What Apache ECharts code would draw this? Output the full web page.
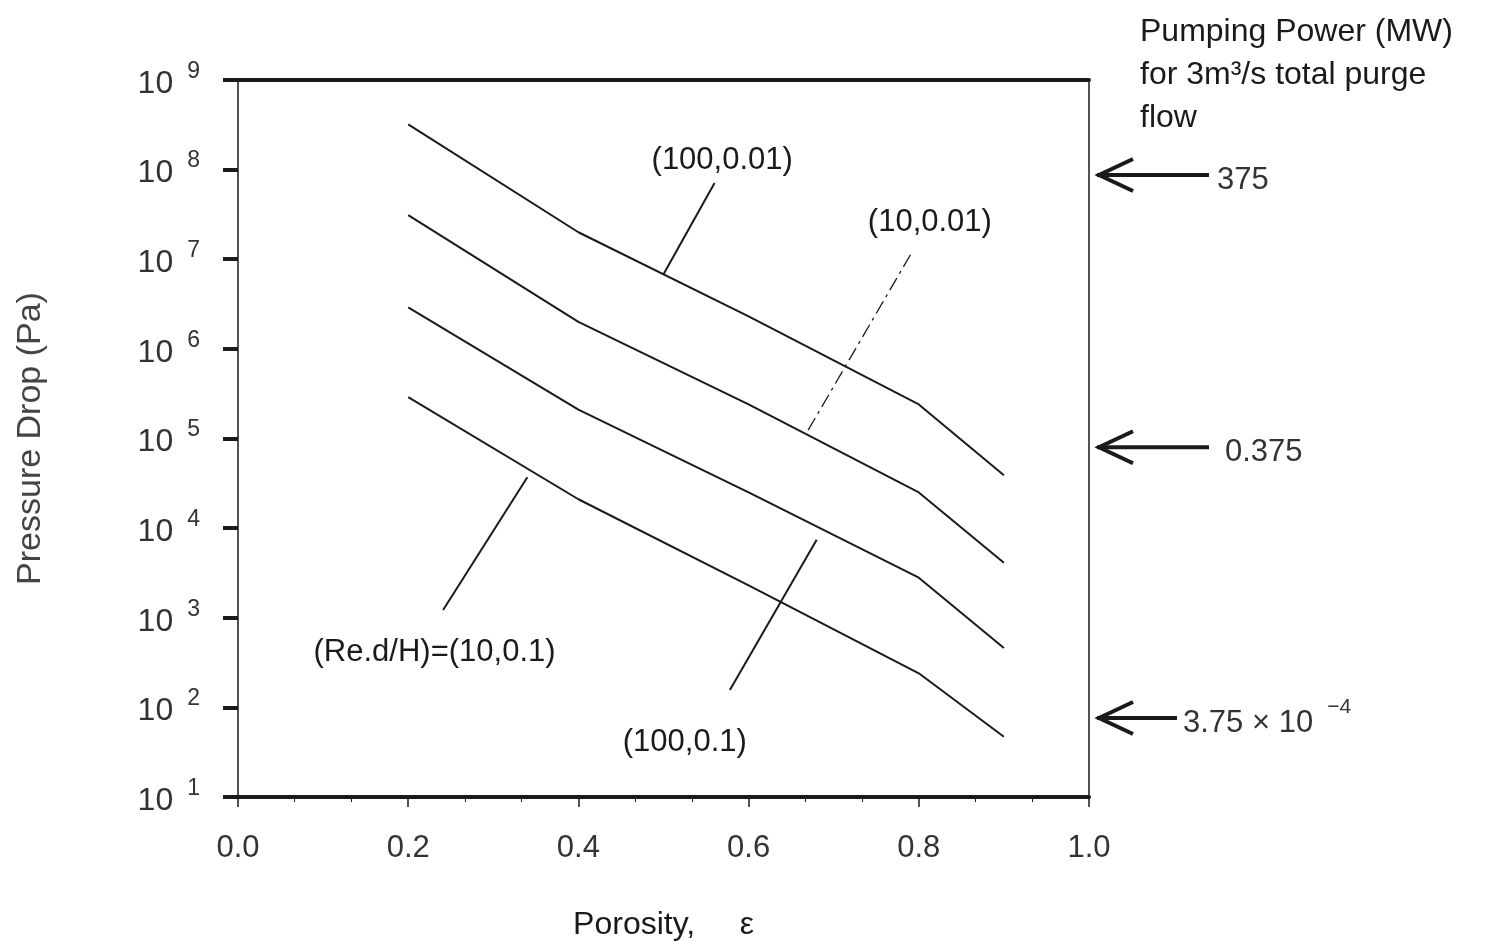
<!DOCTYPE html>
<html>
<head>
<meta charset="utf-8">
<title>Pressure drop vs porosity</title>
<script src="https://cdn.jsdelivr.net/npm/echarts@6/dist/echarts.min.js"></script>
<style>
  html, body { margin: 0; padding: 0; background: #fff; }
  #main { width: 1486px; height: 946px; }
</style>
</head>
<body>
<div id="main"></div>
<script>
// porosity values where the curves are read
var porosity = [0.2, 0.4, 0.6, 0.8, 0.9];
// pressure drop (Pa) for each (Re, d/H) case
var dp_100_001 = [3.2e8, 2.0e7, 2.3e6, 2.4e5, 3.9e4];
var dp_10_001 = [3.1e7, 2.0e6, 2.4e5, 2.5e4, 4.1e3];
var dp_100_01 = [2.9e6, 2.1e5, 2.5e4, 2.8e3, 4.6e2];
var dp_10_01 = [2.9e5, 2.1e4, 2.3e3, 2.4e2, 47];

var xTicks = [0, 0.2, 0.4, 0.6, 0.8, 1.0];
var yMin = 10, yMax = 1e9;

// curve labels and their leader lines [porosity, Pa]
var curveLabels = ['(100,0.01)', '(10,0.01)', '(100,0.1)', '(Re.d/H)=(10,0.1)'];
var labelAt = [[0.569, 1.28e8], [0.813, 2.6e7], [0.525, 41], [0.231, 415]];
var leaderFrom = [[0.5, 6.8e6], [0.67, 1.24e5], [0.68, 7.4e3], [0.34, 3.7e4]];
var leaderTo = [[0.56, 7.1e7], [0.792, 1.2e7], [0.578, 156], [0.241, 1.22e3]];

// pumping power markers on the right side
var powerPa = [8.7e7, 8.0e4, 76];
var powerText = ['375', '0.375', '3.75 \u00d7 10'];
var powerSup = ['', '', '\u22124'];

var FONT = "'Liberation Sans', Arial, sans-serif";
var INK = '#1a1a1a';

var chart = echarts.init(document.getElementById('main'));

function curve(name, values, idx, leaderType) {
    return {
        name: name,
        type: 'line',
        xAxisIndex: 0,
        yAxisIndex: 0,
        data: porosity.map(function (p, i) { return [p, values[i]]; }),
        showSymbol: false,
        lineStyle: { color: INK, width: 2 },
        markLine: {
            silent: true,
            symbol: ['none', 'none'],
            label: { show: false },
            lineStyle: { color: INK, width: leaderType === 'solid' ? 2 : 1.3, type: leaderType === 'solid' ? 'solid' : [14, 5, 3, 5] },
            data: [[{ coord: leaderFrom[idx] }, { coord: leaderTo[idx] }]]
        },
        markPoint: {
            silent: true,
            symbol: 'circle',
            symbolSize: 0,
            label: { show: true, position: 'inside', formatter: '{b}', color: INK, fontSize: 31, fontFamily: FONT },
            data: [{ name: curveLabels[idx], coord: labelAt[idx] }]
        }
    };
}

var option = {
    animation: false,
    backgroundColor: '#fff',
    title: {
        text: 'Pumping Power (MW)\nfor 3m\u00b3/s total purge\nflow',
        left: 1135,
        top: 6,
        textStyle: { fontSize: 32, fontWeight: 'normal', color: INK, fontFamily: FONT, lineHeight: 43 }
    },
    grid: { left: 238, right: 397, top: 80, bottom: 149 },
    xAxis: [{
        type: 'value',
        min: 0, max: 1, interval: 0.2,
        name: 'Porosity,     \u03b5',
        nameLocation: 'middle',
        nameGap: 112,
        nameTextStyle: { fontSize: 32, color: INK, fontFamily: FONT },
        axisLine: { onZero: false, lineStyle: { color: INK, width: 4 } },
        axisTick: { show: true, length: 10, lineStyle: { color: INK, width: 1.5 } },
        minorTick: { show: true, splitNumber: 3, length: 5, lineStyle: { color: INK, width: 1 } },
        axisLabel: {
            margin: 36, fontSize: 31, color: '#333', fontFamily: FONT,
            formatter: function (v) { return v.toFixed(1); }
        },
        splitLine: { show: false }
    }, {
        type: 'value',
        position: 'top',
        min: 0, max: 1,
        axisLine: { onZero: false, lineStyle: { color: INK, width: 4 } },
        axisTick: { show: false },
        axisLabel: { show: false },
        splitLine: { show: false }
    }],
    yAxis: [{
        type: 'log',
        logBase: 10,
        min: yMin, max: yMax, interval: 1,
        name: 'Pressure Drop (Pa)',
        nameLocation: 'middle',
        nameGap: 190,
        nameTextStyle: { fontSize: 34, color: '#444', fontFamily: FONT },
        axisLine: { onZero: false, lineStyle: { color: INK, width: 1.5 } },
        axisTick: { show: true, inside: false, length: 15, lineStyle: { color: INK, width: 4 } },
        axisLabel: {
            margin: 38,
            formatter: function (v) { return '{b|10}{e|' + Math.round(Math.log10(v)) + '}'; },
            rich: {
                b: { fontSize: 32, lineHeight: 40, verticalAlign: 'bottom', color: '#333', fontFamily: FONT },
                e: { fontSize: 23, lineHeight: 40, verticalAlign: 'top', color: '#333', fontFamily: FONT, padding: [0, 0, 0, 14] }
            }
        },
        splitLine: { show: false }
    }, {
        type: 'log',
        logBase: 10,
        position: 'right',
        min: yMin, max: yMax,
        axisLine: { onZero: false, lineStyle: { color: INK, width: 1.5 } },
        axisTick: { show: false },
        axisLabel: { show: false },
        splitLine: { show: false }
    }],
    series: [
        curve('(100,0.01)', dp_100_001, 0, 'solid'),
        curve('(10,0.01)', dp_10_001, 1, 'dashdot'),
        curve('(100,0.1)', dp_100_01, 2, 'solid'),
        curve('(10,0.1)', dp_10_01, 3, 'solid')
    ]
};

chart.setOption(option);

// arrows pointing at the right axis for the pumping power scale
var rightX = chart.convertToPixel({ xAxisIndex: 0 }, 1.0);
var arrowLen = [112, 112, 80];
var textGap = [8, 16, 6];
var graphics = [];
powerPa.forEach(function (p, i) {
    var y = chart.convertToPixel({ yAxisIndex: 0 }, p);
    var tip = rightX + 8;
    var end = tip + arrowLen[i];
    graphics.push({
        type: 'polyline', silent: true,
        shape: { points: [[tip, y], [end, y]] },
        style: { stroke: INK, lineWidth: 4, fill: null }
    });
    graphics.push({
        type: 'polyline', silent: true,
        shape: { points: [[tip + 36, y - 16], [tip + 2, y], [tip + 36, y + 16]] },
        style: { stroke: INK, lineWidth: 4, fill: null, lineJoin: 'miter' }
    });
    graphics.push({
        type: 'text', silent: true,
        x: end + textGap[i], y: y,
        style: {
            text: '{n|' + powerText[i] + '}' + (powerSup[i] ? '{s|' + powerSup[i] + '}' : ''),
            verticalAlign: 'middle',
            rich: {
                n: { fontSize: 31, lineHeight: 42, verticalAlign: 'bottom', fill: '#333', fontFamily: FONT },
                s: { fontSize: 21, lineHeight: 42, verticalAlign: 'top', fill: '#333', fontFamily: FONT, padding: [0, 0, 0, 14] }
            }
        }
    });
});
chart.setOption({ graphic: graphics });

window.addEventListener('resize', function () { chart.resize(); });
</script>
</body>
</html>
